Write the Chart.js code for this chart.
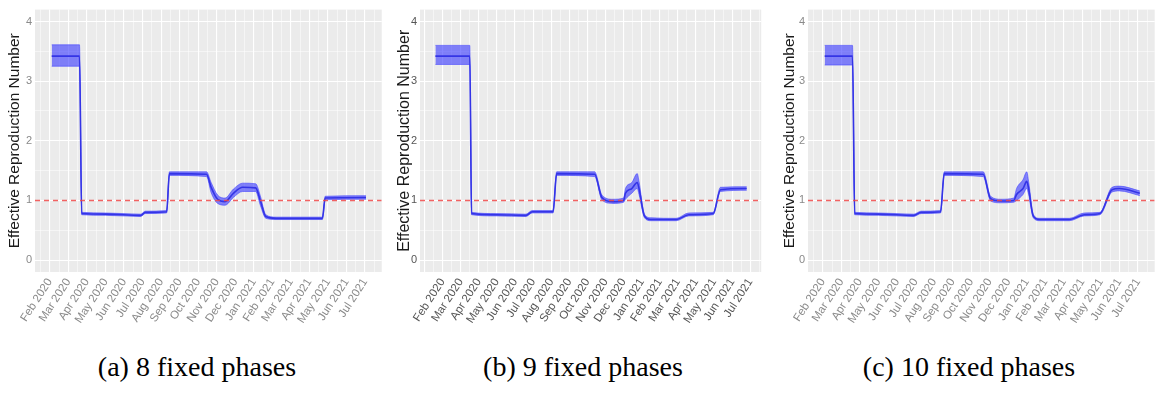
<!DOCTYPE html>
<html lang="en">
<head>
    <meta charset="UTF-8">
    <title>Effective Reproduction Number - fixed phases</title>

    <!-- Include Chart.js -->
    <script src="https://cdn.jsdelivr.net/npm/chart.js"></script>

    <style>
        body {
            margin: 0;
            background: #fff;
            width: 1163px;
            height: 400px;
            position: relative;
            overflow: hidden;
        }
        .panel {
            position: absolute;
            top: 0;
        }
        .caption {
            position: absolute;
            top: 352px;
            width: 388px;
            text-align: center;
            font-family: "Liberation Serif", "Times New Roman", serif;
            font-size: 28px;
            color: #000;
            line-height: 30px;
        }
    </style>
</head>
<body>
    <canvas id="chartA" class="panel" style="left:0px" width="390" height="340"></canvas>
    <canvas id="chartB" class="panel" style="left:390px" width="385" height="340"></canvas>
    <canvas id="chartC" class="panel" style="left:775px" width="388" height="340"></canvas>

    <div class="caption" style="left:3px">(a) 8 fixed phases</div>
    <div class="caption" style="left:389px">(b) 9 fixed phases</div>
    <div class="caption" style="left:775px">(c) 10 fixed phases</div>

    <script>
        // x axis: month index, 0 = Feb 2020
        const monthLabels = ['Feb 2020', 'Mar 2020', 'Apr 2020', 'May 2020', 'Jun 2020', 'Jul 2020',
            'Aug 2020', 'Sep 2020', 'Oct 2020', 'Nov 2020', 'Dec 2020', 'Jan 2021',
            'Feb 2021', 'Mar 2021', 'Apr 2021', 'May 2021', 'Jun 2021', 'Jul 2021'];

        const yTicks = [0, 1, 2, 3, 4];
        const threshold = 1;

        // (a) 8 fixed phases
        const xA    = [0.1, 1.6, 1.72, 3.0, 4.9, 5.15, 6.3, 6.45, 8.45, 8.7, 9.05, 9.45, 9.9, 10.4, 11.1, 11.35, 11.65, 12.2, 14.7, 14.85, 17.05];
        const meanA = [3.42, 3.42, 0.78, 0.77, 0.75, 0.80, 0.81, 1.45, 1.44, 1.22, 1.02, 0.98, 1.12, 1.22, 1.21, 1.00, 0.73, 0.70, 0.70, 1.04, 1.05];
        const loA   = [3.25, 3.25, 0.76, 0.75, 0.73, 0.78, 0.79, 1.42, 1.40, 1.13, 0.95, 0.92, 1.05, 1.15, 1.15, 0.92, 0.70, 0.68, 0.68, 1.01, 1.02];
        const hiA   = [3.61, 3.61, 0.80, 0.79, 0.77, 0.82, 0.83, 1.48, 1.48, 1.30, 1.09, 1.04, 1.19, 1.29, 1.28, 1.08, 0.76, 0.72, 0.72, 1.07, 1.08];

        // (b) 9 fixed phases
        const xB    = [-0.4, 1.5, 1.6, 3.0, 4.6, 4.95, 6.1, 6.3, 8.4, 8.8, 9.4, 10.0, 10.1, 10.45, 10.75, 10.85, 11.15, 11.5, 12.9, 13.6, 14.95, 15.35, 16.8];
        const meanB = [3.42, 3.42, 0.78, 0.76, 0.75, 0.81, 0.81, 1.45, 1.44, 1.05, 0.98, 1.00, 1.12, 1.20, 1.30, 1.20, 0.74, 0.68, 0.68, 0.76, 0.78, 1.18, 1.20];
        const loB   = [3.28, 3.28, 0.76, 0.74, 0.73, 0.79, 0.79, 1.42, 1.40, 1.01, 0.95, 0.97, 1.02, 1.12, 1.20, 1.10, 0.71, 0.66, 0.66, 0.74, 0.76, 1.15, 1.17];
        const hiB   = [3.60, 3.60, 0.80, 0.78, 0.77, 0.83, 0.83, 1.48, 1.48, 1.09, 1.02, 1.04, 1.20, 1.30, 1.45, 1.32, 0.77, 0.71, 0.70, 0.79, 0.80, 1.22, 1.23];

        // (c) 10 fixed phases
        const xC    = [0.1, 1.6, 1.72, 3.0, 4.9, 5.3, 6.35, 6.55, 8.65, 9.05, 9.6, 10.3, 10.45, 10.8, 11.0, 11.1, 11.35, 11.7, 13.3, 14.1, 14.95, 15.6, 16.0, 17.1];
        const meanC = [3.42, 3.42, 0.78, 0.77, 0.75, 0.80, 0.81, 1.45, 1.44, 1.03, 0.99, 1.00, 1.10, 1.20, 1.32, 1.20, 0.74, 0.68, 0.68, 0.76, 0.78, 1.18, 1.20, 1.12];
        const loC   = [3.27, 3.27, 0.76, 0.75, 0.73, 0.78, 0.79, 1.42, 1.40, 0.99, 0.96, 0.97, 1.00, 1.10, 1.20, 1.10, 0.71, 0.66, 0.66, 0.74, 0.76, 1.14, 1.16, 1.08];
        const hiC   = [3.60, 3.60, 0.80, 0.79, 0.77, 0.82, 0.83, 1.48, 1.48, 1.07, 1.02, 1.04, 1.20, 1.35, 1.48, 1.32, 0.77, 0.70, 0.70, 0.79, 0.80, 1.22, 1.24, 1.16];

        // grey ggplot-like panel background
        const panelBg = {
            id: 'panelBg',
            beforeDraw(chart) {
                const a = chart.chartArea;
                const ctx = chart.ctx;
                ctx.save();
                ctx.fillStyle = '#EBEBEB';
                ctx.fillRect(a.left, a.top, a.right - a.left, a.bottom - a.top);
                ctx.restore();
            }
        };

        function isMajor(v) {
            return Math.abs(v - Math.round(v)) < 1e-6;
        }

        function makePanel(id, xs, mean, lo, hi, cfg) {
            const pts = arr => xs.map((x, i) => ({ x: x, y: arr[i] }));
            const ctx = document.getElementById(id).getContext('2d');
            return new Chart(ctx, {
                type: 'line',
                data: {
                    datasets: [
                        {
                            // dashed reference line at R = 1
                            data: [{ x: cfg.xMin, y: threshold }, { x: cfg.xMax, y: threshold }],
                            borderColor: 'rgba(240,70,70,0.85)',
                            borderWidth: 1.5,
                            borderDash: [5, 4],
                            pointRadius: 0,
                            fill: false,
                            order: 0
                        },
                        {
                            // upper bound, filled down to the lower bound
                            data: pts(hi),
                            borderColor: 'rgba(60,60,255,0.55)',
                            borderWidth: 1,
                            backgroundColor: 'rgba(60,60,255,0.62)',
                            pointRadius: 0,
                            cubicInterpolationMode: 'monotone',
                            fill: '+1',
                            order: 3
                        },
                        {
                            data: pts(lo),
                            borderColor: 'rgba(60,60,255,0.55)',
                            borderWidth: 1,
                            pointRadius: 0,
                            cubicInterpolationMode: 'monotone',
                            fill: false,
                            order: 2
                        },
                        {
                            // posterior mean
                            data: pts(mean),
                            borderColor: '#3434e6',
                            borderWidth: 1.6,
                            pointRadius: 0,
                            cubicInterpolationMode: 'monotone',
                            fill: false,
                            order: 1
                        }
                    ]
                },
                options: {
                    responsive: false,
                    animation: false,
                    devicePixelRatio: 1,
                    layout: { padding: { top: 5, right: cfg.padRight, left: 0, bottom: 0 } },
                    plugins: {
                        legend: { display: false },
                        tooltip: { enabled: false }
                    },
                    scales: {
                        x: {
                            type: 'linear',
                            min: cfg.xMin,
                            max: cfg.xMax,
                            afterFit(scale) { scale.height = 68; },
                            border: { display: false },
                            grid: {
                                color: '#ffffff',
                                lineWidth: c => isMajor(c.tick.value) ? 1.1 : 0.5,
                                drawTicks: false
                            },
                            ticks: {
                                stepSize: 0.5,
                                includeBounds: false,
                                autoSkip: false,
                                minRotation: 57,
                                maxRotation: 57,
                                padding: 4,
                                color: cfg.tickColor,
                                font: { family: 'Liberation Sans', size: 11.5 },
                                callback: v => isMajor(v) ? (monthLabels[Math.round(v)] || '') : ''
                            }
                        },
                        y: {
                            min: -0.2,
                            max: 4.2,
                            afterFit(scale) { scale.width = cfg.yWidth; },
                            border: { display: false },
                            grid: {
                                color: '#ffffff',
                                lineWidth: c => isMajor(c.tick.value) ? 1.1 : 0.5,
                                drawTicks: false
                            },
                            ticks: {
                                stepSize: 0.5,
                                includeBounds: false,
                                padding: 3,
                                color: cfg.tickColor,
                                font: { family: 'Liberation Sans', size: 11 },
                                callback: v => yTicks.includes(v) ? String(v) : ''
                            },
                            title: {
                                display: true,
                                text: 'Effective Reproduction Number',
                                color: '#1a1a1a',
                                padding: { top: 5, bottom: 2 },
                                font: { family: 'Liberation Sans', size: cfg.titleSize }
                            }
                        }
                    }
                },
                plugins: [panelBg]
            });
        }

        makePanel('chartA', xA, meanA, loA, hiA,
            { xMin: -0.8, xMax: 17.9, padRight: 5, yWidth: 35, tickColor: '#8a8a8a', titleSize: 15.5 });
        makePanel('chartB', xB, meanB, loB, hiB,
            { xMin: -1.25, xMax: 17.6, padRight: 5, yWidth: 30, tickColor: '#555555', titleSize: 16 });
        makePanel('chartC', xC, meanC, loC, hiC,
            { xMin: -0.8, xMax: 17.9, padRight: 8, yWidth: 33, tickColor: '#8a8a8a', titleSize: 15.5 });
    </script>
</body>
</html>
